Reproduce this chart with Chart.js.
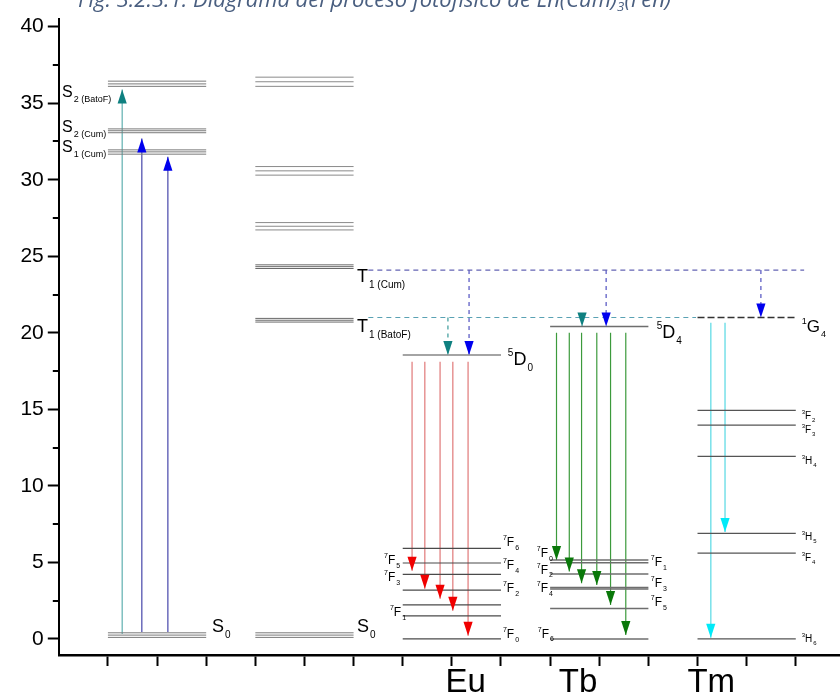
<!DOCTYPE html>
<html>
<head>
<meta charset="utf-8">
<script src="https://cdn.jsdelivr.net/npm/chart.js@4.4.1/dist/chart.umd.min.js"></script>
<style>
html, body { margin: 0; padding: 0; background: #fff; }
#wrap { width: 840px; height: 700px; }
</style>
</head>
<body>
<div id="wrap"><canvas id="chart" width="840" height="700"></canvas></div>
<script>
// energy in 10^3 cm-1, x is just the column slot
const yTicks = [0, 5, 10, 15, 20, 25, 30, 35, 40];
const yMinorTicks = [2.5, 7.5, 12.5, 17.5, 22.5, 27.5, 32.5, 37.5];
const xTicks = [1, 2, 3, 4, 5, 6, 7, 8, 9, 10, 11, 12, 13, 14, 15];

const ligandSpan = [1, 3];
const complexSpan = [4, 6];
const euSpan = [7, 9];
const tbSpan = [10, 12];
const tmSpan = [13, 15];

const ligandS2Bato = [36.1, 36.26, 36.44];
const ligandS2Cum = [33.07, 33.2, 33.32];
const ligandS1Cum = [31.67, 31.82, 31.95];
const ligandS0 = [0.1, 0.25, 0.4];

const complexHigh = [36.1, 36.4, 36.7];
const complex30 = [30.3, 30.58, 30.86];
const complex27 = [26.72, 26.96, 27.2];
const complexT1Cum = [24.2, 24.32, 24.44];
const complexT1Bato = [20.7, 20.82, 20.94];
const complexS0 = [0.1, 0.25, 0.4];

const euLevels = [18.55, 5.92, 4.96, 4.22, 3.19, 2.23, 1.51, 0];
const tbLevels = [20.41, 5.16, 4.98, 4.24, 3.36, 3.26, 1.99, 0];
const tmExcited = 21.0;
const tmLevels = [14.93, 13.97, 11.93, 6.9, 5.6, 0];

const t1Cum = 24.1;
const t1Bato = 21.0;

// absorption arrows from S0
const absorbX = [1.29, 1.69, 2.22];
const absorbFrom = [0.32, 0.45, 0.45];
const absorbTo = [35.9, 32.7, 31.5];

// energy transfer arrows
const transferBatoX = [7.92, 10.65];
const transferBatoTo = [18.55, 20.41];
const transferCumX = [8.35, 11.14, 14.29];
const transferCumTo = [18.55, 20.41, 21.0];

// emission arrows
const euEmitX = [7.19, 7.45, 7.76, 8.02, 8.33];
const euEmitFrom = 18.1;
const euEmitTo = [4.46, 3.28, 2.62, 1.84, 0.2];
const tbEmitX = [10.13, 10.39, 10.64, 10.95, 11.23, 11.54];
const tbEmitFrom = 20.0;
const tbEmitTo = [5.16, 4.4, 3.63, 3.52, 2.21, 0.25];
const tmEmitX = [13.27, 13.56];
const tmEmitFrom = 20.65;
const tmEmitTo = [0.08, 6.98];

const ionNames = ['Eu', 'Tb', 'Tm'];

const FONT = '"Liberation Sans", Arial, sans-serif';

const datasets = [];

function addLine(x0, y0, x1, y1, color, width, dash, head) {
    datasets.push({
        data: [{ x: x0, y: y0 }, { x: x1, y: y1 }],
        borderColor: color,
        borderWidth: width,
        borderDash: dash || [],
        showLine: true,
        pointRadius: 0,
        fill: false,
        head: head || null
    });
}

function addLevels(values, span, color, width) {
    values.forEach(v => addLine(span[0], v, span[1], v, color, width));
}

addLevels(ligandS2Bato, ligandSpan, "#7a7a7a", 1);
addLevels(ligandS2Cum, ligandSpan, "#7a7a7a", 1);
addLevels(ligandS1Cum, ligandSpan, "#7a7a7a", 1);
addLevels(ligandS0, ligandSpan, "#7a7a7a", 1);
addLevels(complexHigh, complexSpan, "#8a8a8a", 1);
addLevels(complex30, complexSpan, "#8a8a8a", 1);
addLevels(complex27, complexSpan, "#8a8a8a", 1);
addLevels(complexT1Cum, complexSpan, "#6a6a6a", 1);
addLevels(complexT1Bato, complexSpan, "#6a6a6a", 1);
addLevels(complexS0, complexSpan, "#7a7a7a", 1);

addLevels(euLevels, euSpan, "#4a4a4a", 1.2);
addLevels(tbLevels, tbSpan, "#6e6e6e", 1.4);
addLevels(tmLevels, tmSpan, "#555555", 1.2);
addLine(tmSpan[0], tmExcited, tmSpan[1], tmExcited, "#333333", 1.4, [7, 3]);

// triplet dashed guides
addLine(6.3, t1Cum, 15.17, t1Cum, "#6464b4", 1.2, [5, 4]);
addLine(6.3, t1Bato, 12.97, t1Bato, "#5aa2b4", 1.2, [5, 4]);

absorbX.forEach((x, i) => {
    const teal = i === 0;
    addLine(x, absorbFrom[i], x, absorbTo[i], teal ? "#5fb0b0" : "#4646aa", 1.2, null, teal ? "#0f8080" : "#0000ee");
});

euEmitX.forEach((x, i) => addLine(x, euEmitFrom, x, euEmitTo[i], "#e07878", 1.2, null, "#f00000"));
tbEmitX.forEach((x, i) => addLine(x, tbEmitFrom, x, tbEmitTo[i], "#3c9a3c", 1.2, null, "#0a780a"));
tmEmitX.forEach((x, i) => addLine(x, tmEmitFrom, x, tmEmitTo[i], "#7fe2ea", 1.6, null, "#00eaf8"));

transferBatoX.forEach((x, i) => addLine(x, t1Bato, x, transferBatoTo[i], "#3a9a9a", 1.2, [4, 4], "#0f8080"));
transferCumX.forEach((x, i) => addLine(x, t1Cum, x, transferCumTo[i], "#5050c0", 1.2, [4, 4], "#0000ee"));

// label anchors in data units
const levelLabels = [
    { x: 0.065, y: 35.39, main: "S", sub: "2 (BatoF)", size: 16 },
    { x: 0.065, y: 33.1, main: "S", sub: "2 (Cum)", size: 16 },
    { x: 0.065, y: 31.8, main: "S", sub: "1 (Cum)", size: 16 },
    { x: 3.12, y: 0.45, main: "S", sub: "0", size: 18 },
    { x: 6.07, y: 0.45, main: "S", sub: "0", size: 18 },
    { x: 6.07, y: 23.31, main: "T", sub: "1 (Cum)", size: 18 },
    { x: 6.07, y: 20.05, main: "T", sub: "1 (BatoF)", size: 18 },
    { x: 9.14, y: 17.89, sup: "5", main: "D", sub: "0", size: 18 },
    { x: 12.17, y: 19.65, sup: "5", main: "D", sub: "4", size: 18 },
    { x: 15.12, y: 20.05, sup: "1", main: "G", sub: "4", size: 17 },

    { x: 9.04, y: 6.07, sup: "7", main: "F", sub: "6", size: 12, small: 7 },
    { x: 9.04, y: 4.57, sup: "7", main: "F", sub: "4", size: 12, small: 7 },
    { x: 9.04, y: 3.06, sup: "7", main: "F", sub: "2", size: 12, small: 7 },
    { x: 9.04, y: 0.06, sup: "7", main: "F", sub: "0", size: 12, small: 7 },
    { x: 6.62, y: 4.89, sup: "7", main: "F", sub: "5", size: 12, small: 7 },
    { x: 6.62, y: 3.78, sup: "7", main: "F", sub: "3", size: 12, small: 7 },
    { x: 6.74, y: 1.5, sup: "7", main: "F", sub: "1", size: 12, small: 7 },

    { x: 9.73, y: 5.32, sup: "7", main: "F", sub: "0", size: 12, small: 7 },
    { x: 9.73, y: 4.27, sup: "7", main: "F", sub: "2", size: 12, small: 7 },
    { x: 9.73, y: 3.06, sup: "7", main: "F", sub: "4", size: 12, small: 7 },
    { x: 9.75, y: 0.09, sup: "7", main: "F", sub: "6", size: 12, small: 7 },
    { x: 12.05, y: 4.76, sup: "7", main: "F", sub: "1", size: 12, small: 7 },
    { x: 12.05, y: 3.36, sup: "7", main: "F", sub: "3", size: 12, small: 7 },
    { x: 12.05, y: 2.15, sup: "7", main: "F", sub: "5", size: 12, small: 7 },

    { x: 15.12, y: 14.36, sup: "3", main: "F", sub: "2", size: 10, small: 6 },
    { x: 15.12, y: 13.45, sup: "3", main: "F", sub: "3", size: 10, small: 6 },
    { x: 15.12, y: 11.42, sup: "3", main: "H", sub: "4", size: 10, small: 6 },
    { x: 15.12, y: 6.46, sup: "3", main: "H", sub: "5", size: 10, small: 6 },
    { x: 15.12, y: 5.12, sup: "3", main: "F", sub: "4", size: 10, small: 6 },
    { x: 15.12, y: -0.17, sup: "3", main: "H", sub: "6", size: 10, small: 6 }
];
const ionLabelX = [8.28, 10.57, 13.28];
const ionLabelY = -3.47;

function drawLabel(ctx, px, py, lab) {
    const s = lab.size;
    const small = lab.small || Math.round(s * 0.55);
    let cx = px;
    ctx.fillStyle = "#000";
    ctx.textAlign = "left";
    ctx.textBaseline = "alphabetic";
    if (lab.sup) {
        ctx.font = `${small}px ${FONT}`;
        ctx.fillText(lab.sup, cx, py - s * 0.5);
        cx += ctx.measureText(lab.sup).width;
    }
    ctx.font = `${s}px ${FONT}`;
    ctx.fillText(lab.main, cx, py);
    cx += ctx.measureText(lab.main).width;
    if (lab.sub) {
        ctx.font = `${small}px ${FONT}`;
        ctx.fillText(lab.sub, cx + 1, py + s * 0.32);
    }
}

const diagramDecor = {
    id: "diagramDecor",
    afterDatasetsDraw(chart) {
        const { ctx } = chart;
        const xs = chart.scales.x;
        const ys = chart.scales.y;

        // arrow heads at the end point of each arrow dataset
        chart.data.datasets.forEach(ds => {
            if (!ds.head) return;
            const a = ds.data[0];
            const b = ds.data[1];
            const x0 = xs.getPixelForValue(a.x), y0 = ys.getPixelForValue(a.y);
            const x1 = xs.getPixelForValue(b.x), y1 = ys.getPixelForValue(b.y);
            const ang = Math.atan2(y1 - y0, x1 - x0);
            ctx.save();
            ctx.translate(x1, y1);
            ctx.rotate(ang);
            ctx.beginPath();
            ctx.moveTo(0, 0);
            ctx.lineTo(-14, -4.6);
            ctx.lineTo(-14, 4.6);
            ctx.closePath();
            ctx.fillStyle = ds.head;
            ctx.fill();
            ctx.restore();
        });
    },
    afterDraw(chart) {
        const { ctx } = chart;
        const xs = chart.scales.x;
        const ys = chart.scales.y;

        // minor ticks on the y axis
        ctx.save();
        ctx.strokeStyle = "#000";
        ctx.lineWidth = 2;
        yMinorTicks.forEach(v => {
            const py = Math.round(ys.getPixelForValue(v));
            ctx.beginPath();
            ctx.moveTo(xs.left - 6, py);
            ctx.lineTo(xs.left, py);
            ctx.stroke();
        });
        ctx.restore();

        ctx.save();
        levelLabels.forEach(lab => {
            drawLabel(ctx, xs.getPixelForValue(lab.x), ys.getPixelForValue(lab.y), lab);
        });

        ctx.font = `33px ${FONT}`;
        ctx.fillStyle = "#000";
        ctx.textAlign = "center";
        ionNames.forEach((name, i) => {
            ctx.fillText(name, xs.getPixelForValue(ionLabelX[i]), ys.getPixelForValue(ionLabelY));
        });

        // caption, cut off at the top like the source figure
        const part1 = "Fig. 3.2.3.1. Diagrama del proceso fotofísico de Ln(Cum)";
        const part2 = "3";
        const part3 = "(Fen)";
        const left = 78, right = 672;
        let size = 19;
        const fam = '"Open Sans", "Noto Sans", sans-serif';
        ctx.font = `italic ${size}px ${fam}`;
        let w = ctx.measureText(part1 + part3).width + size * 0.35;
        size = size * (right - left) / w;
        ctx.textAlign = "left";
        ctx.fillStyle = "#4a5f80";
        ctx.font = `italic ${size}px ${fam}`;
        let cx = left;
        const base = 7;
        ctx.fillText(part1, cx, base);
        cx += ctx.measureText(part1).width;
        ctx.font = `italic ${size * 0.6}px ${fam}`;
        ctx.fillText(part2, cx, base + size * 0.2);
        cx += ctx.measureText(part2).width;
        ctx.font = `italic ${size}px ${fam}`;
        ctx.fillText(part3, cx, base);
        ctx.restore();
    }
};

new Chart(document.getElementById("chart"), {
    type: "scatter",
    data: { datasets: datasets },
    options: {
        responsive: false,
        animation: false,
        events: [],
        layout: { padding: { top: 19, left: 0, right: 0, bottom: 0 } },
        plugins: {
            legend: { display: false },
            tooltip: { enabled: false },
            title: { display: false }
        },
        scales: {
            x: {
                type: "linear",
                min: 0,
                max: 15.9,
                afterBuildTicks: s => { s.ticks = xTicks.map(v => ({ value: v })); },
                afterFit: s => { s.height = 45; },
                ticks: { display: false },
                grid: { drawOnChartArea: false, drawTicks: true, tickLength: 11, tickWidth: 2, tickColor: "#000" },
                border: { display: true, color: "#000", width: 2.5 }
            },
            y: {
                type: "linear",
                min: -1.05,
                max: 40.5,
                afterBuildTicks: s => { s.ticks = yTicks.map(v => ({ value: v })); },
                afterFit: s => { s.width = 58.8; },
                ticks: { autoSkip: false, color: "#000", padding: 4, font: { family: FONT, size: 21 } },
                grid: { drawOnChartArea: false, drawTicks: true, tickLength: 11, tickWidth: 2, tickColor: "#000" },
                border: { display: true, color: "#000", width: 2 }
            }
        }
    },
    plugins: [diagramDecor]
});
</script>
</body>
</html>
